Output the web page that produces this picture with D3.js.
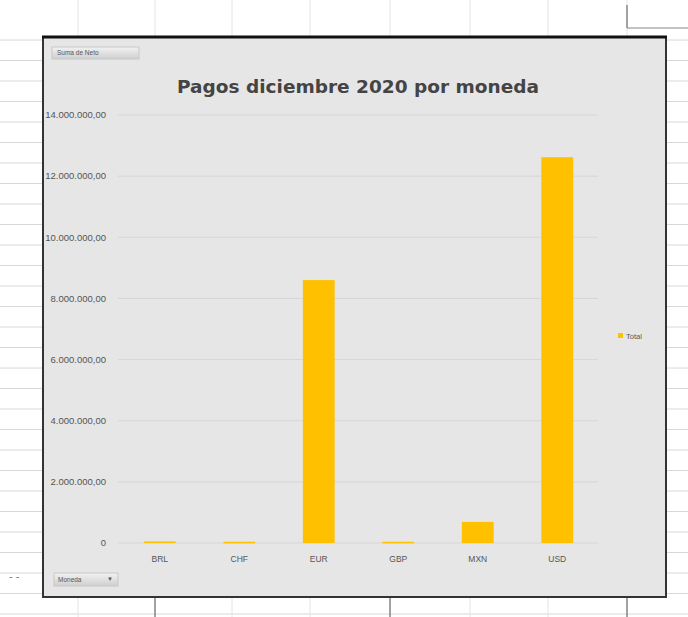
<!DOCTYPE html>
<html>
<head>
<meta charset="utf-8">
<script src="https://cdn.jsdelivr.net/npm/d3@7"></script>
<style>
html,body{margin:0;padding:0;background:#fff;}
svg{display:block;font-family:"Liberation Sans",Arial,sans-serif;}
</style>
</head>
<body>
<svg id="chart" width="688" height="617"></svg>
<script>
const categories = ["BRL", "CHF", "EUR", "GBP", "MXN", "USD"];
const totals = [50000, 40000, 8600000, 40000, 690000, 12620000];
const yTicks = [0, 2000000, 4000000, 6000000, 8000000, 10000000, 12000000, 14000000];
const chartTitle = "Pagos diciembre 2020 por moneda";
const seriesName = "Total";
const valueButton = "Suma de Neto";
const axisButton = "Moneda";

const svg = d3.select("#chart");

// spreadsheet background grid
const rowLines = d3.range(0, 32).map(i => 40 + i * 20.5);
svg.append("g").selectAll("line").data(rowLines).join("line")
  .attr("x1", 0).attr("x2", 688).attr("y1", d => d).attr("y2", d => d)
  .attr("stroke", "#d8d8d8").attr("stroke-width", 1);
const colLines = [78, 155, 232, 310, 390, 470, 548, 627];
svg.append("g").selectAll("line").data(colLines).join("line")
  .attr("x1", d => d).attr("x2", d => d).attr("y1", 0).attr("y2", 617)
  .attr("stroke", "#e4e4e4").attr("stroke-width", 1);
[155, 390, 627].forEach(x => {
  svg.append("line").attr("x1", x).attr("x2", x).attr("y1", 598).attr("y2", 617)
    .attr("stroke", "#555").attr("stroke-width", 1);
});
svg.append("line").attr("x1", 627).attr("x2", 627).attr("y1", 5).attr("y2", 28)
  .attr("stroke", "#555").attr("stroke-width", 1);
svg.append("line").attr("x1", 627).attr("x2", 688).attr("y1", 28).attr("y2", 28)
  .attr("stroke", "#888").attr("stroke-width", 1);

// chart frame
svg.append("rect").attr("x", 43).attr("y", 37).attr("width", 623).attr("height", 560)
  .attr("fill", "#e6e6e6").attr("stroke", "#333").attr("stroke-width", 2);
svg.append("line").attr("x1", 42).attr("x2", 667).attr("y1", 37).attr("y2", 37)
  .attr("stroke", "#111").attr("stroke-width", 3);

const x = d3.scaleBand().domain(categories).range([120, 597]).paddingInner(0.6).paddingOuter(0.3);
const y = d3.scaleLinear().domain([0, 14000000]).range([543, 115]);

// gridlines
svg.append("g").selectAll("line").data(yTicks).join("line")
  .attr("x1", 118).attr("x2", 598).attr("y1", d => y(d)).attr("y2", d => y(d))
  .attr("stroke", "#d6d6d6").attr("stroke-width", 1);

// y axis labels
const fmt = v => v === 0 ? "0" : d3.format(",.2f")(v).replace(/,/g, "X").replace(/\./g, ",").replace(/X/g, ".");
svg.append("g").selectAll("text").data(yTicks).join("text")
  .attr("x", 106).attr("y", d => y(d)).attr("dy", "0.35em")
  .attr("text-anchor", "end").attr("font-size", 9.5).attr("fill", "#555")
  .text(fmt);

// bars
svg.append("g").selectAll("rect").data(categories).join("rect")
  .attr("x", d => x(d)).attr("width", x.bandwidth())
  .attr("y", (d, i) => y(totals[i])).attr("height", (d, i) => Math.max(1.5, y(0) - y(totals[i])))
  .attr("fill", "#FFC000");

// x labels
svg.append("g").selectAll("text").data(categories).join("text")
  .attr("x", d => x(d) + x.bandwidth() / 2).attr("y", 562)
  .attr("text-anchor", "middle").attr("font-size", 8.5).attr("fill", "#555")
  .text(d => d);

// title
svg.append("text").attr("x", 358).attr("y", 93).attr("text-anchor", "middle")
  .attr("font-size", 18.5).attr("font-weight", "bold").attr("fill", "#444")
  .attr("font-family", "DejaVu Sans, sans-serif")
  .text(chartTitle);

// legend
svg.append("rect").attr("x", 618).attr("y", 333).attr("width", 5).attr("height", 5).attr("fill", "#FFC000");
svg.append("text").attr("x", 626).attr("y", 336).attr("dy", "0.35em")
  .attr("font-size", 7.5).attr("fill", "#555").text(seriesName);

// pivot field buttons
const grad = svg.append("defs").append("linearGradient").attr("id", "btn")
  .attr("x1", 0).attr("x2", 0).attr("y1", 0).attr("y2", 1);
grad.append("stop").attr("offset", "0%").attr("stop-color", "#f2f2f2");
grad.append("stop").attr("offset", "100%").attr("stop-color", "#cfcfcf");
svg.append("rect").attr("x", 52).attr("y", 47).attr("width", 87).attr("height", 12)
  .attr("fill", "url(#btn)").attr("stroke", "#c8c8c8");
svg.append("text").attr("x", 57).attr("y", 53).attr("dy", "0.35em")
  .attr("font-size", 6.5).attr("fill", "#555").text(valueButton);
svg.append("rect").attr("x", 54).attr("y", 573).attr("width", 64).attr("height", 13)
  .attr("fill", "url(#btn)").attr("stroke", "#c8c8c8");
svg.append("text").attr("x", 58).attr("y", 580).attr("dy", "0.35em")
  .attr("font-size", 6.5).attr("fill", "#555").text(axisButton);
svg.append("text").attr("x", 110).attr("y", 579).attr("dy", "0.35em").attr("text-anchor", "middle")
  .attr("font-size", 6).attr("fill", "#555").text("▼");

// small dashes left
svg.append("text").attr("x", 9).attr("y", 580).attr("font-size", 11).attr("fill", "#777").text("- -");
</script>
</body>
</html>
